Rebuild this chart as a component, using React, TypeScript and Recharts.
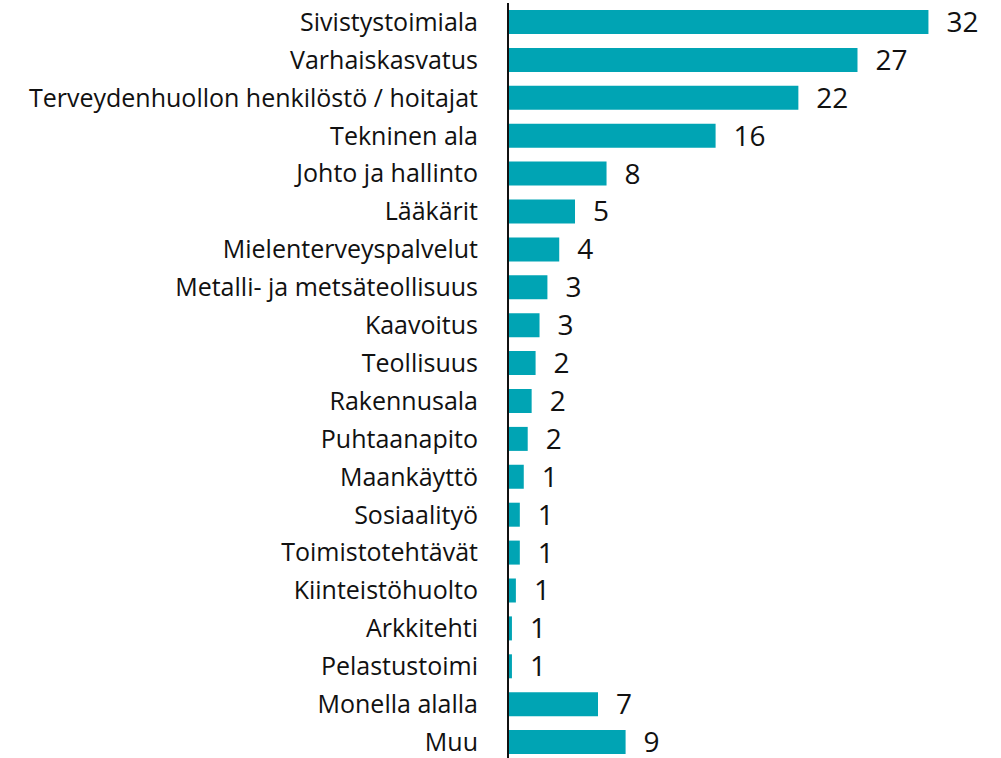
import { BarChart, Bar, XAxis, YAxis, LabelList } from 'recharts'

const categories = [
  'Sivistystoimiala', 'Varhaiskasvatus', 'Terveydenhuollon henkilöstö / hoitajat',
  'Tekninen ala', 'Johto ja hallinto', 'Lääkärit', 'Mielenterveyspalvelut',
  'Metalli- ja metsäteollisuus', 'Kaavoitus', 'Teollisuus', 'Rakennusala',
  'Puhtaanapito', 'Maankäyttö', 'Sosiaalityö', 'Toimistotehtävät',
  'Kiinteistöhuolto', 'Arkkitehti', 'Pelastustoimi', 'Monella alalla', 'Muu',
]
// bar lengths
const values = [32, 26.6, 22.1, 15.8, 7.5, 5.1, 3.9, 3.0, 2.4, 2.1, 1.8, 1.5, 1.2, 0.9, 0.9, 0.6, 0.3, 0.3, 6.85, 8.95]
// numbers printed next to the bars
const labels = ['32', '27', '22', '16', '8', '5', '4', '3', '3', '2', '2', '2', '1', '1', '1', '1', '1', '1', '7', '9']

const data = categories.map((name, i) => ({ name, value: values[i], label: labels[i] }))

const FONT = '"Open Sans", "Noto Sans", sans-serif'

export default function App() {
  return (
    <div style={{
      position: 'fixed', top: 0, left: 0, width: 1001, height: 758,
      overflow: 'hidden', background: 'white', fontFamily: FONT,
    }}>
      <BarChart
        width={1001} height={761} data={data} layout="vertical"
        margin={{ top: 3, right: 20, left: 0, bottom: 0 }}
        barSize={24}
      >
        <XAxis type="number" domain={[0, 36]} hide />
        <YAxis
          type="category" dataKey="name" width={508}
          tickLine={false} tickSize={0} tickMargin={30}
          axisLine={{ stroke: '#111', strokeWidth: 2 }}
          tick={{ fill: '#111', fontSize: 25, fontFamily: FONT }}
          interval={0}
        />
        <Bar dataKey="value" fill="#00A4B4" isAnimationActive={false}>
          <LabelList
            dataKey="label" position="right" offset={18}
            style={{ fill: '#111', fontSize: 28, fontFamily: FONT }}
          />
        </Bar>
      </BarChart>
    </div>
  )
}
